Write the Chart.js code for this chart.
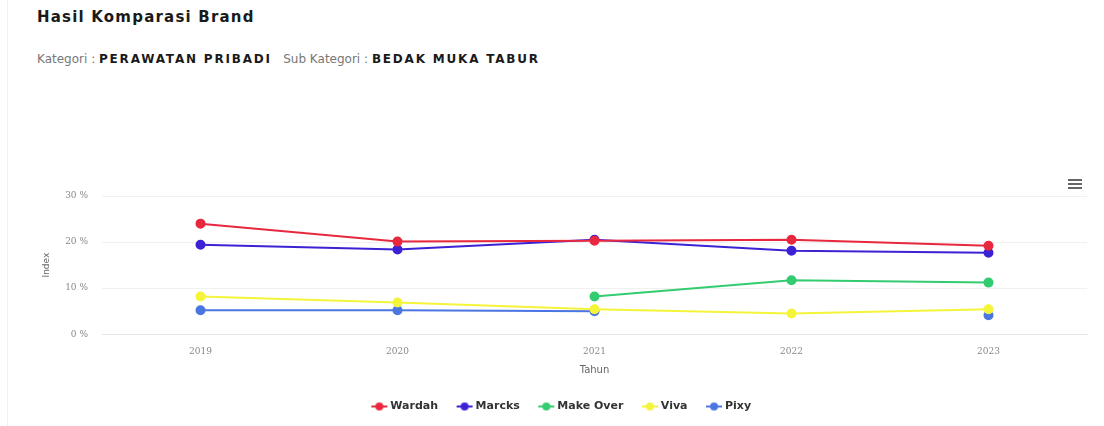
<!DOCTYPE html>
<html>
<head>
<meta charset="utf-8">
<script src="https://cdn.jsdelivr.net/npm/chart.js@4.4.0/dist/chart.umd.min.js"></script>
<style>
  body { margin: 0; background: #fff; width: 1104px; height: 426px; overflow: hidden; font-family: "DejaVu Sans", sans-serif; }
  .box { position: absolute; left: 7px; top: 0; width: 1097px; height: 426px; border-left: 1px solid #f0f0f0; }
  .judul { position: absolute; left: 37px; top: 8px; font-size: 15px; font-weight: bold; color: #1a1a1a; letter-spacing: 1.2px; }
  .sub { position: absolute; left: 37px; top: 52px; font-size: 12px; color: #777; white-space: nowrap; }
  .sub b { color: #1a1a1a; font-size: 12px; letter-spacing: 1.8px; }
  .menu { position: absolute; left: 1068px; top: 179px; width: 14px; }
  .menu div { height: 2px; background: #666; margin-bottom: 2px; }
  #wrap { position: absolute; left: 0; top: 150px; width: 1104px; height: 276px; }
</style>
</head>
<body>
<div class="box"></div>
<div class="judul">Hasil Komparasi Brand</div>
<div class="sub">Kategori : <b>PERAWATAN PRIBADI</b> &nbsp; Sub Kategori : <b>BEDAK MUKA TABUR</b></div>
<div class="menu"><div></div><div></div><div></div></div>
<div id="wrap"><canvas id="lineChart"></canvas></div>
<script>
/* data komparasi brand per tahun (index %) */
var tahun = ["2019", "2020", "2021", "2022", "2023"];
var wardah   = [24.0, 20.1, 20.3, 20.5, 19.2];
var marcks   = [19.4, 18.4, 20.5, 18.1, 17.7];
var makeOver = [null, null, 8.2, 11.7, 11.2];
var viva     = [8.2, 6.9, 5.4, 4.5, 5.4];
var pixy     = [5.2, 5.2, 5.0, null, 4.1];
var yTicks   = [0, 10, 20, 30];

// simbol legend: garis + titik
function simbol(color) {
    var c = document.createElement("canvas");
    c.width = 18; c.height = 10;
    var ctx = c.getContext("2d");
    ctx.strokeStyle = color; ctx.lineWidth = 2;
    ctx.beginPath(); ctx.moveTo(1, 5); ctx.lineTo(17, 5); ctx.stroke();
    ctx.fillStyle = color;
    ctx.beginPath(); ctx.arc(9, 5, 4, 0, Math.PI * 2); ctx.fill();
    return c;
}

function seri(label, data, color) {
    return {
        label: label,
        data: data,
        borderColor: color,
        backgroundColor: color,
        pointBackgroundColor: color,
        pointBorderColor: color,
        pointRadius: 4,
        pointHoverRadius: 5,
        pointStyle: 'circle',
        borderWidth: 2,
        fill: false,
        tension: 0,
        spanGaps: false
    };
}

var chartdata = {
    labels: tahun,
    datasets: [
        seri("Wardah", wardah, "#e8283f"),
        seri("Marcks", marcks, "#3b22d4"),
        seri("Make Over", makeOver, "#33cc70"),
        seri("Viva", viva, "#f4f43a"),
        seri("Pixy", pixy, "#4b76e2")
    ]
};

var lineGraph = new Chart(document.getElementById("lineChart"), {
    type: 'line',
    data: chartdata,
    options: {
        responsive: true,
        maintainAspectRatio: false,
        animation: false,
        layout: { padding: { top: 46, right: 17, left: 38, bottom: 4 } },
        plugins: {
            title: { display: false },
            tooltip: { enabled: false },
            legend: {
                position: 'bottom',
                labels: {
                    font: { family: "DejaVu Sans", size: 11, weight: 'bold' },
                    color: '#333',
                    padding: 21,
                    boxWidth: 18,
                    usePointStyle: true,
                    generateLabels: function (chart) {
                        return chart.data.datasets.map(function (d, i) {
                            return {
                                text: d.label,
                                pointStyle: simbol(d.borderColor),
                                fillStyle: d.borderColor,
                                strokeStyle: d.borderColor,
                                lineWidth: 0,
                                fontColor: '#333',
                                datasetIndex: i,
                                hidden: false
                            };
                        });
                    }
                }
            }
        },
        scales: {
            x: {
                offset: true,
                afterFit: function (axis) { axis.height -= 5; },
                grid: { display: false, drawTicks: false },
                border: { display: true, color: '#e6e6e6' },
                ticks: { color: '#888', font: { family: "DejaVu Serif", size: 9 }, padding: 12 },
                title: { display: true, text: 'Tahun', color: '#666', font: { family: "DejaVu Sans", size: 10 }, padding: { top: 0, bottom: 4 } }
            },
            y: {
                min: 0,
                max: 30,
                afterFit: function (axis) { axis.width = 64; },
                afterBuildTicks: function (axis) { axis.ticks = yTicks.map(function (v) { return { value: v }; }); },
                grid: { color: '#f0f0f0', drawTicks: false },
                border: { display: false },
                ticks: {
                    color: '#888',
                    font: { family: "DejaVu Serif", size: 9 },
                    padding: 14,
                    callback: function (v) { return v + ' %'; }
                },
                title: { display: true, text: 'Index', color: '#666', font: { family: "DejaVu Sans", size: 9 }, padding: { top: 3, bottom: 0 } }
            }
        }
    }
});
</script>
</body>
</html>
